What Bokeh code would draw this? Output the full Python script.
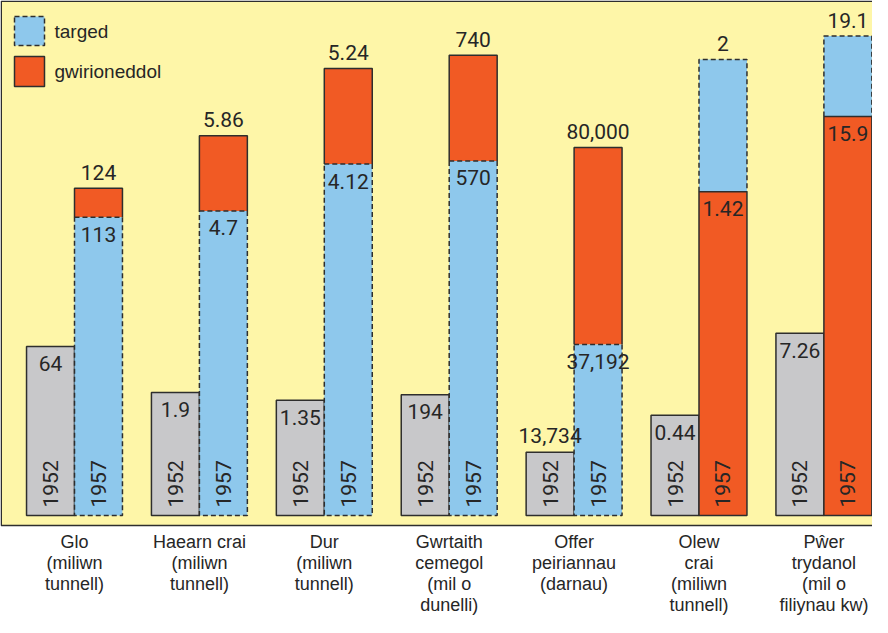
import math
from bokeh.plotting import figure
from bokeh.models import Range1d
from bokeh.core.properties import value
from bokeh.embed import file_html
from bokeh.resources import INLINE

# ---------------- data ----------------
categories = [
    "Glo\n(miliwn\ntunnell)",
    "Haearn crai\n(miliwn\ntunnell)",
    "Dur\n(miliwn\ntunnell)",
    "Gwrtaith\ncemegol\n(mil o\ndunelli)",
    "Offer\npeiriannau\n(darnau)",
    "Olew\ncrai\n(miliwn\ntunnell)",
    "Pŵer\ntrydanol\n(mil o\nfiliynau kw)",
]
v1952 = [64, 1.9, 1.35, 194, 13734, 0.44, 7.26]
target_1957 = [113, 4.7, 4.12, 570, 37192, 2, 19.1]
actual_1957 = [124, 5.86, 5.24, 740, 80000, 1.42, 15.9]
year_labels = ["1952", "1957"]
legend_labels = ["targed", "gwirioneddol"]

# each group is drawn to its own scale (pixels per unit)
px_per_unit = [2.64, 64.8, 85.3, 0.622, 0.0046, 228, 25.1]

# ---------------- style ----------------
W, H = 872, 617
BASE = 515          # baseline of bars, px from top
GX0, GDX = 74, 124.9
BW = 0.384
YEL = "#FEF6A8"
BLUE = "#8EC8EC"
ORANGE = "#F15A24"
GRAY = "#C8C8CA"
LC = "#2e2e2e"
TC = "#262626"
NUMFONT = value("Roboto")
TXTFONT = value("Liberation Sans")
DASH = "5 3"
ABOVE = 16   # px gap (label anchor above bar top)
BELOW = 17   # px (label anchor below segment top)


def fmt(v):
    return f"{v:,}" if isinstance(v, int) else f"{v:g}"


p = figure(width=W, height=H, output_backend="svg", toolbar_location=None,
           x_range=Range1d(0, W), y_range=Range1d(H, 0),
           x_axis_location=None, y_axis_location=None, min_border=0)
p.grid.visible = False
p.outline_line_color = None
p.background_fill_color = "white"
p.border_fill_color = "white"

p.extra_x_ranges = {"g": Range1d(-GX0 / GDX, (W - GX0) / GDX)}
p.extra_y_ranges = {f"v{i}": Range1d(-(H - BASE) / k, BASE / k)
                    for i, k in enumerate(px_per_unit)}

# panel
p.quad(left=[0.75], right=[W + 10], top=[0.75], bottom=[525],
       fill_color=YEL, line_color=LC, line_width=1.5)

for i, k in enumerate(px_per_unit):
    yr = f"v{i}"
    kw = dict(x_range_name="g", y_range_name=yr)
    # 1952 bar
    p.quad(left=[i - BW], right=[i], bottom=[0], top=[v1952[i]],
           fill_color=GRAY, line_color=LC, line_width=1.5, **kw)
    t, a = target_1957[i], actual_1957[i]
    if a >= t:
        lo, lcol, ldash = t, BLUE, DASH
        hi, ucol, udash = a, ORANGE, "solid"
    else:
        lo, lcol, ldash = a, ORANGE, "solid"
        hi, ucol, udash = t, BLUE, DASH
    # upper segment
    p.quad(left=[i], right=[i + BW], bottom=[lo], top=[hi],
           fill_color=ucol, line_color=None, **kw)
    p.line(x=[i, i, i + BW, i + BW], y=[lo, hi, hi, lo],
           line_color=LC, line_width=1.5, line_dash=udash, **kw)
    # lower segment
    p.quad(left=[i], right=[i + BW], bottom=[0], top=[lo],
           fill_color=lcol, line_color=LC, line_width=1.5, line_dash=ldash, **kw)

    # value labels
    g = v1952[i]
    gy = g - BELOW / k if g * k > 70 else g + (ABOVE + 1) / k
    p.text(x=[i - BW / 2, i + BW / 2, i + BW / 2],
           y=[gy, lo - BELOW / k, hi + ABOVE / k],
           text=[fmt(g), fmt(lo), fmt(hi)],
           text_font=NUMFONT, text_font_size="21px", text_color=TC,
           text_align="center", text_baseline="alphabetic", **kw)

# year labels
xs, ys, ts = [], [], []
for i in range(len(categories)):
    xs += [i - BW / 2, i + BW / 2]
    ys += [BASE - 8, BASE - 8]
    ts += year_labels
p.text(x=xs, y=ys, text=ts, x_range_name="g", angle=math.pi / 2,
       text_font=NUMFONT, text_font_size="21px", text_color=TC,
       text_align="left", text_baseline="middle")

# category labels
p.text(x=list(range(len(categories))), y=[531] * len(categories), text=categories,
       x_range_name="g", text_font=TXTFONT, text_font_size="18px",
       text_color=TC, text_align="center", text_baseline="top",
       text_line_height=1.05)

# legend
p.quad(left=[14], right=[44], top=[16], bottom=[45],
       fill_color=BLUE, line_color=LC, line_width=1.5, line_dash=DASH)
p.quad(left=[14], right=[44], top=[56], bottom=[86],
       fill_color=ORANGE, line_color=LC, line_width=1.5)
p.text(x=[54, 54], y=[30.5, 71], text=legend_labels,
       text_font=TXTFONT, text_font_size="19px", text_color=TC,
       text_align="left", text_baseline="middle")

open("out.html", "w").write(file_html(p, INLINE))
